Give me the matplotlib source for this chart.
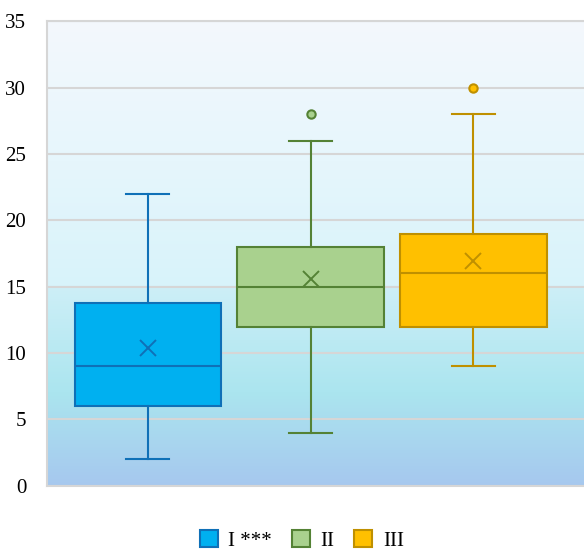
import numpy as np
import matplotlib
matplotlib.use("Agg")
import matplotlib.pyplot as plt
from matplotlib.colors import LinearSegmentedColormap
from matplotlib.patches import Patch

plt.rcParams["font.family"] = ["Liberation Serif", "DejaVu Serif"]

# Box statistics
groups = ["I ***", "II", "III"]
q1 = [6, 12, 12]
median = [9, 15, 16]
q3 = [13.8, 18, 19]
whis_low = [2, 4, 9]
whis_high = [22, 26, 28]
means = [10.4, 15.6, 16.9]
outliers = [[], [28], [30]]

fills = ["#00B0F0", "#A9D18E", "#FFC000"]
edges = ["#0F70B7", "#548235", "#BF9000"]

fig = plt.figure(figsize=(5.84, 5.49), dpi=100)
ax = fig.add_axes([0.0805, 0.115, 0.9195, 0.8465])

# gradient background
bg = LinearSegmentedColormap.from_list("bg", [
    (0.0, "#A6C8EE"),
    (0.2, "#ABE5EF"),
    (0.425, "#CDEFF7"),
    (0.43, "#D8F3FA"),
    (0.7, "#E6F6FC"),
    (1.0, "#F4F8FD"),
])
grad = np.linspace(0, 1, 256).reshape(-1, 1)
ax.imshow(grad, aspect="auto", cmap=bg, origin="lower",
          extent=[0.38, 3.68, 0, 35], zorder=0)

stats = []
for i in range(len(groups)):
    stats.append(dict(q1=q1[i], med=median[i], q3=q3[i], whislo=whis_low[i],
                      whishi=whis_high[i], mean=means[i], fliers=outliers[i],
                      label=groups[i]))

for i, s in enumerate(stats):
    ax.bxp([s], positions=[i + 1], widths=0.9, patch_artist=True,
           showmeans=True, capwidths=0.265,
           boxprops=dict(facecolor=fills[i], edgecolor=edges[i], linewidth=1.5),
           medianprops=dict(color=edges[i], linewidth=1.5),
           whiskerprops=dict(color=edges[i], linewidth=1.5),
           capprops=dict(color=edges[i], linewidth=1.5),
           meanprops=dict(marker="x", markeredgecolor=edges[i],
                          markersize=12, markeredgewidth=1.4),
           flierprops=dict(marker="o", markerfacecolor=fills[i],
                           markeredgecolor=edges[i], markersize=6,
                           markeredgewidth=1.5),
           zorder=3)

ax.set_xlim(0.38, 3.68)
ax.set_ylim(0, 35)
ax.set_yticks(range(0, 36, 5))
ax.set_xticks([])
ax.yaxis.grid(True, color="#D6D6D6", linewidth=1.5, zorder=1)
ax.set_axisbelow(True)
ax.tick_params(axis="y", length=0, pad=15, labelsize=15)
for side in ["left", "bottom", "top"]:
    ax.spines[side].set_color("#D6D6D6")
    ax.spines[side].set_linewidth(1.5)
ax.spines["right"].set_visible(False)

handles = [Patch(facecolor=fills[i], edgecolor=edges[i], linewidth=1.5)
           for i in range(len(groups))]
fig.legend(handles, groups, loc="center", bbox_to_anchor=(0.517, 0.016),
           ncol=3, frameon=False, fontsize=15, handlelength=0.87,
           handleheight=0.87, handletextpad=0.5, columnspacing=0.95)

fig.savefig("out.png", dpi=100)
